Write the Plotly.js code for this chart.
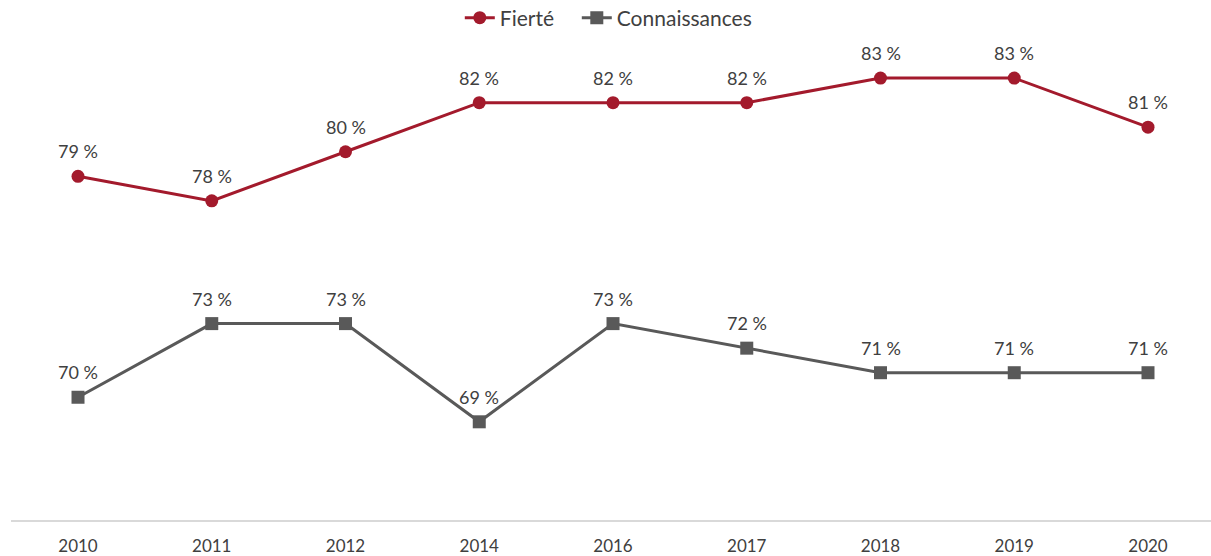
<!DOCTYPE html>
<html>
<head>
<meta charset="utf-8">
<script src="https://cdn.plot.ly/plotly-3.0.1.min.js"></script>
<style>html,body{margin:0;padding:0;background:#fff;}#chart{width:1211px;height:556px;}</style>
</head>
<body>
<div id="chart"></div>
<script>
const years = ["2010", "2011", "2012", "2014", "2016", "2017", "2018", "2019", "2020"];
const fierte = [79, 78, 80, 82, 82, 82, 83, 83, 81];
const connaissances = [70, 73, 73, 69, 73, 72, 71, 71, 71];
const seriesNames = ["Fierté", "Connaissances"];

const FONT = "Lato, 'Liberation Sans', sans-serif";
const TXT = "#404040";
function labels(arr) { return arr.map(v => v + " %"); }

const traces = [
  {
    x: years, y: fierte, name: seriesNames[0], type: "scatter", mode: "lines+markers",
    line: {color: "#a31a2c", width: 3},
    marker: {color: "#a31a2c", size: 13, symbol: "circle"},
    cliponaxis: false, legend: "legend"
  },
  {
    x: years, y: connaissances, name: seriesNames[1], type: "scatter", mode: "lines+markers",
    line: {color: "#595959", width: 3},
    marker: {color: "#595959", size: 13, symbol: "square"},
    cliponaxis: false, legend: "legend2"
  }
];

const annotations = [];
[fierte, connaissances].forEach(series => {
  const lab = labels(series);
  series.forEach((v, i) => {
    annotations.push({
      x: i, y: v, xref: "x", yref: "y", text: lab[i], showarrow: false,
      yshift: 25, font: {family: FONT, size: 18, color: TXT}
    });
  });
});

const legendFont = {family: FONT, size: 21, color: TXT};
const layout = {
  width: 1211, height: 556,
  margin: {l: 11, r: 0, t: 30, b: 36, autoexpand: false},
  paper_bgcolor: "#fff", plot_bgcolor: "#fff",
  font: {family: FONT, color: TXT, size: 17},
  showlegend: true,
  legend: {orientation: "h", x: 0.374, xanchor: "left", y: 1.0245, yanchor: "middle", font: legendFont},
  legend2: {orientation: "h", x: 0.4715, xanchor: "left", y: 1.0245, yanchor: "middle", font: legendFont},
  annotations: annotations,
  xaxis: {
    type: "category", range: [-0.501, 8.471], showgrid: false, zeroline: false,
    showline: true, linecolor: "#d9d9d9", linewidth: 2, ticks: "",
    ticklabelstandoff: 10,
    tickfont: {family: FONT, size: 17, color: TXT}, fixedrange: true
  },
  yaxis: {
    range: [65, 84.96], showgrid: false, zeroline: false, showline: false,
    showticklabels: false, ticks: "", fixedrange: true
  }
};

Plotly.newPlot("chart", traces, layout, {displayModeBar: false, staticPlot: true});
</script>
</body>
</html>
